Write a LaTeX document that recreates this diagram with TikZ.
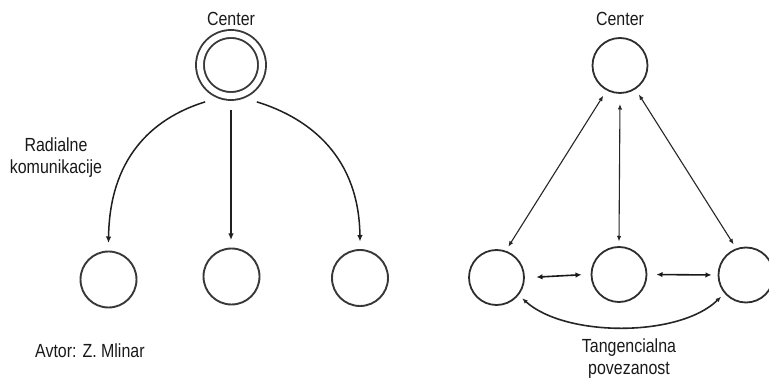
\documentclass[tikz,border=0pt]{standalone}
\usepackage{fontspec}
\setmainfont[FakeStretch=0.84]{Liberation Sans}
\usetikzlibrary{arrows.meta}
\begin{document}
\begin{tikzpicture}[x=1pt,y=-1pt,
  circ/.style={circle,draw=black!78,line width=1.9pt,minimum size=56pt,inner sep=0pt},
  rcirc/.style={circle,draw=black!82,line width=1.8pt,minimum size=55pt,inner sep=0pt,outer sep=5.5pt},
  larr/.style={draw=black!88,line width=1.5pt,-{Latex[length=6.5pt,width=5.5pt]}},
  rarr/.style={draw=black!85,line width=1.1pt,{Latex[length=5.5pt,width=4.5pt]}-{Latex[length=5.5pt,width=4.5pt]}},
  harr/.style={draw=black!90,line width=1.6pt,{Latex[length=6pt,width=5.5pt]}-{Latex[length=6pt,width=5.5pt]}},
  lbl/.style={font=\fontsize{19pt}{22pt}\selectfont,text=black!90,inner sep=0pt}]
\useasboundingbox (0,0) rectangle (769,379);
% left diagram
\node[lbl,anchor=base] (t1) at (231,25.5) {Center};
\node[circle,draw=black!78,line width=1.9pt,double,double distance=6pt,minimum size=62pt,inner sep=0pt,outer sep=14pt] (C1) at (231,65) {};
\node[circ,outer sep=8.5pt] (B1) at (108.5,279.5) {};
\node[circ,outer sep=8.5pt] (B2) at (231.5,276.5) {};
\node[circ,outer sep=8.5pt] (B3) at (360,278) {};
\draw[larr] (C1.235) .. controls +(-55,17) and +(1,-83) .. (B1.north);
\draw[larr] (C1.south) -- (B2.north -| C1.south);
\draw[larr] (C1.305) .. controls +(55,17) and +(-1,-83) .. (B3.north);
\node[lbl,align=center,anchor=base] (t2) at (56,174) {Radialne\\komunikacije};
\node[lbl,anchor=base west] (t3) at (35,358) {Avtor: Z. Mlinar};
% right diagram
\node[lbl,anchor=base] (t4) at (620,26) {Center};
\node[rcirc,outer sep=7pt] (RC) at (620,65.5) {};
\node[rcirc] (R1) at (496.5,277.5) {};
\node[rcirc] (R2) at (619,274.5) {};
\node[rcirc] (R3) at (746,275) {};
\draw[rarr] (R1.69) -- (RC.241);
\draw[rarr,shorten <=4pt] (RC.south) -- (R2.north);
\draw[rarr] (RC.303) -- (R3.112);
\draw[harr,shorten <=7pt,shorten >=4.5pt] (R1.east) -- (R2.west);
\draw[harr,shorten <=4.5pt,shorten >=1.5pt] (R2.east) -- (R3.west);
\draw[rarr,line width=1.6pt] (R1.-39) .. controls +(43,39) and +(-42,41) .. (R3.221);
\node[lbl,align=center,anchor=base] (t5) at (629,375) {Tangencialna\\povezanost};
\end{tikzpicture}
\end{document}
